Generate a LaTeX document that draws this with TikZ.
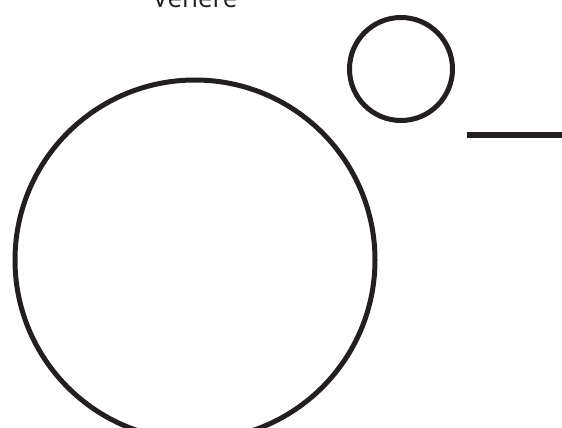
\documentclass[tikz,border=0pt]{standalone}
\usepackage{fontspec}
\setmainfont{Open Sans}
\usepackage{tikz}
\definecolor{ink}{HTML}{231F20}

\begin{document}
\begin{tikzpicture}[x=1pt,y=-1pt]
		\tikzset{planet/.style={draw=ink,circle,line width=5pt,inner sep=0pt}}
		\useasboundingbox (0,0) rectangle (562,428);
		\clip (0,0) rectangle (562,428);
		\node (venere) at (195,-2) [text=ink,font=\fontsize{26}{30}\selectfont] {Venere};
		\node (sole) at (195,260) [planet,minimum size=360pt] {};
		\node (pianeta) at (401,69) [planet,minimum size=103pt] {};
		\coordinate (a) at (467,135);
		\coordinate (b) at (562,135);
		
		\path
		(a)  edge [draw=ink, line width=6pt] (b);
	\end{tikzpicture}
\end{document}
